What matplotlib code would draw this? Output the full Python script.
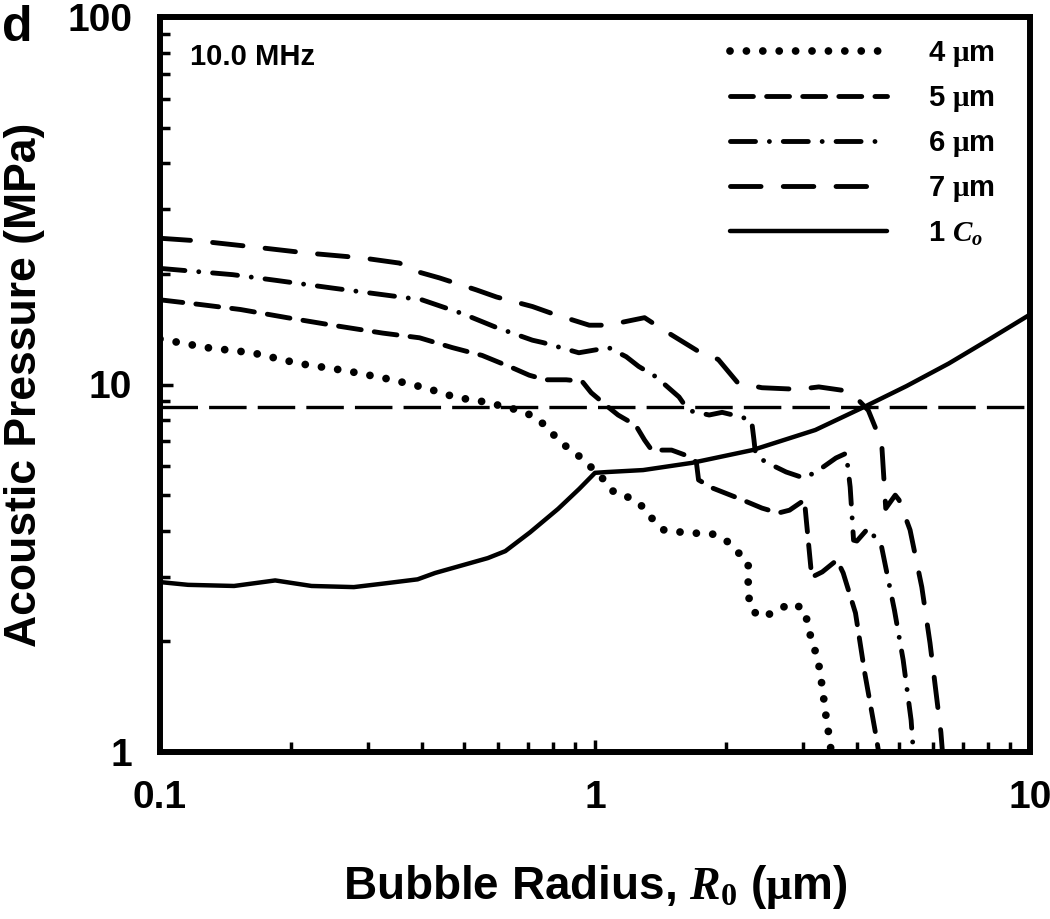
import matplotlib
matplotlib.use("Agg")
import matplotlib.pyplot as plt
from matplotlib.ticker import LogLocator, NullFormatter, FixedLocator, FixedFormatter

plt.rcParams['font.family'] = ['Liberation Sans', 'DejaVu Sans']
plt.rcParams['font.weight'] = 'bold'
plt.rcParams['mathtext.fontset'] = 'custom'
plt.rcParams['mathtext.rm'] = 'Liberation Serif'
plt.rcParams['mathtext.it'] = 'Liberation Serif:italic'
plt.rcParams['mathtext.bf'] = 'Liberation Sans:bold'
plt.rcParams['lines.scale_dashes'] = False

# bubble radius (um) vs threshold acoustic pressure (MPa)
x_co = [0.10, 0.116, 0.148, 0.184, 0.223, 0.279, 0.324, 0.391, 0.429, 0.567, 0.622,
        0.709, 0.823, 0.92, 1.0, 1.07, 1.29, 1.67, 2.30, 3.21, 4.19, 5.2, 6.5, 8.0, 10.0]
y_co = [2.90, 2.85, 2.83, 2.93, 2.83, 2.81, 2.87, 2.95, 3.07, 3.37, 3.52,
        3.96, 4.59, 5.2, 5.75, 5.78, 5.85, 6.12, 6.63, 7.52, 8.73, 9.9, 11.4, 13.2, 15.5]

x_4um = [0.10, 0.128, 0.163, 0.209, 0.268, 0.342, 0.409, 0.478, 0.56, 0.67, 0.73, 0.78,
         0.83, 0.90, 0.97, 1.0, 1.05, 1.11, 1.21, 1.29, 1.35, 1.44, 1.56, 1.70, 1.86, 2.0,
         2.16, 2.25, 2.25, 2.25, 2.28, 2.39, 2.60, 2.80, 3.02, 3.09, 3.15, 3.25, 3.33,
         3.40, 3.45, 3.5]
y_4um = [13.3, 12.6, 12.2, 11.4, 10.9, 10.3, 9.78, 9.23, 8.96, 8.5, 8.15, 7.6,
         6.98, 6.52, 6.04, 5.78, 5.5, 5.06, 4.91, 4.64, 4.33, 4.02, 3.97, 3.94, 3.92, 3.77,
         3.44, 3.28, 2.99, 2.71, 2.46, 2.33, 2.40, 2.54, 2.46, 2.22, 1.99, 1.81, 1.50,
         1.24, 1.11, 0.98]

x_5um = [0.10, 0.124, 0.153, 0.196, 0.249, 0.325, 0.395, 0.47, 0.55, 0.646, 0.706, 0.77,
         0.859, 0.934, 0.98, 1.07, 1.13, 1.24, 1.30, 1.35, 1.50, 1.61, 1.71, 1.73, 1.86,
         2.13, 2.42, 2.64, 2.80, 3.03, 3.06, 3.15, 3.33, 3.6, 3.72, 3.97, 4.17, 4.43, 4.5]
y_5um = [17.0, 16.5, 16.0, 15.2, 14.5, 13.8, 13.4, 12.6, 12.0, 11.1, 10.6, 10.3,
         10.3, 10.2, 9.5, 8.7, 8.26, 7.75, 7.06, 6.63, 6.63, 6.43, 6.15, 5.5, 5.23,
         4.91, 4.61, 4.47, 4.55, 4.85, 4.28, 2.99, 3.09, 3.33, 3.07, 2.39, 1.64, 1.1, 0.98]

x_6um = [0.10, 0.147, 0.185, 0.249, 0.32, 0.40, 0.495, 0.593, 0.718, 0.76, 0.918, 1.075,
         1.18, 1.26, 1.38, 1.56, 1.64, 1.83, 1.96, 2.13, 2.29, 2.32, 2.34, 2.47, 2.75,
         3.03, 3.27, 3.58, 3.78, 3.86, 3.93, 4.0, 4.25, 4.56, 4.88, 5.11, 5.33, 5.4]
y_6um = [20.7, 19.9, 19.2, 18.3, 17.6, 17.0, 15.6, 14.3, 13.2, 13.0, 12.2, 12.6,
         11.9, 11.2, 10.5, 9.25, 8.5, 8.26, 8.4, 8.2, 8.0, 7.06, 6.43, 6.15, 5.78,
         5.56, 5.85, 6.31, 6.5, 5.26, 3.77, 3.75, 4.07, 3.61, 2.43, 1.78, 1.22, 0.98]

x_7um = [0.10, 0.122, 0.163, 0.217, 0.292, 0.355, 0.395, 0.439, 0.533, 0.594, 0.718, 0.797,
         0.97, 1.07, 1.30, 1.42, 1.73, 1.92, 2.13, 2.42, 2.94, 3.27, 3.69, 3.97, 4.25,
         4.56, 4.66, 4.9, 5.0, 5.3, 5.64, 5.89, 6.24, 6.3]
y_7um = [25.0, 24.6, 23.7, 22.8, 22.1, 21.4, 20.2, 19.5, 18.1, 17.3, 16.3, 15.6,
         14.5, 14.5, 15.2, 14.2, 12.3, 11.7, 10.1, 9.8, 9.7, 9.85, 9.65, 9.25, 8.5,
         6.93, 4.6, 5.0, 4.85, 4.02, 2.81, 1.98, 1.13, 0.98]

threshold = 8.7

fig = plt.figure(figsize=(10.5, 9.19), dpi=100)
ax = fig.add_axes([160 / 1050, 1 - 752 / 919, 870 / 1050, 735 / 919])

ax.plot(x_4um, y_4um, color='black', lw=5.6, linestyle=(0, (0.01, 11.8)),
        dash_capstyle='round', label=r'4 $\mathrm{\mu}$m')
ax.plot(x_5um, y_5um, color='black', lw=3.5, linestyle=(0, (16.5, 9.5)),
        dash_capstyle='round', label=r'5 $\mathrm{\mu}$m')
ax.plot(x_6um, y_6um, color='black', lw=3.5, linestyle=(0, (18, 10, 0.01, 10)),
        dash_capstyle='round', label=r'6 $\mathrm{\mu}$m')
ax.plot(x_7um, y_7um, color='black', lw=3.5, linestyle=(0, (22, 16)),
        dash_capstyle='round', label=r'7 $\mathrm{\mu}$m')
ax.plot(x_co, y_co, color='black', lw=3.2, solid_capstyle='round',
        label=r'1 $\mathit{C_o}$')
ax.axhline(threshold, color='black', lw=2.4, linestyle=(0, (27, 8)))

ax.set_xscale('log')
ax.set_yscale('log')
ax.set_xlim(0.1, 10)
ax.set_ylim(1, 100)

ax.xaxis.set_major_locator(FixedLocator([0.1, 1, 10]))
ax.xaxis.set_major_formatter(FixedFormatter(['0.1', '1', '10']))
ax.yaxis.set_major_locator(FixedLocator([1, 10, 100]))
ax.yaxis.set_major_formatter(FixedFormatter(['1', '10', '100']))
ax.xaxis.set_minor_locator(LogLocator(base=10, subs=range(2, 10)))
ax.yaxis.set_minor_locator(LogLocator(base=10, subs=range(2, 10)))
ax.xaxis.set_minor_formatter(NullFormatter())
ax.yaxis.set_minor_formatter(NullFormatter())

ax.tick_params(which='both', direction='in', top=False, right=False, width=2.5)
ax.tick_params(which='major', length=9, labelsize=28, pad=20)
ax.tick_params(which='minor', length=7)
for s in ax.spines.values():
    s.set_linewidth(4.3)

ax.set_xlabel(r'Bubble Radius, $\mathit{R}_\mathrm{0}$ ($\mathrm{\mu}$m)', fontsize=33,
              fontweight='bold', labelpad=34)
ax.set_ylabel('Acoustic Pressure (MPa)', fontsize=32, fontweight='bold', labelpad=16)

ax.text(0.035, 0.965, '10.0 MHz', transform=ax.transAxes, fontsize=21,
        fontweight='bold', va='top', ha='left')
fig.text(0.002, 0.995, 'd', fontsize=36, fontweight='bold', va='top', ha='left')

ax.legend(loc='upper right', bbox_to_anchor=(0.99, 1.006), frameon=False,
          fontsize=21, handlelength=5.4, handletextpad=1.4, labelspacing=0.52)

fig.savefig('out.png', dpi=100)
